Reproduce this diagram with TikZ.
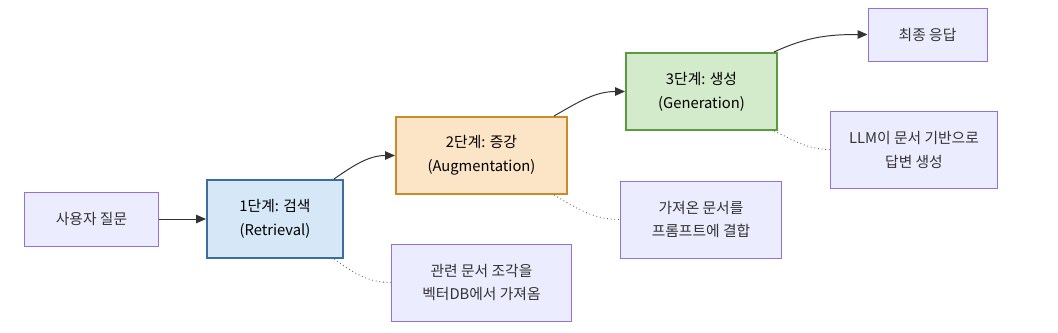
\documentclass[tikz,border=0pt]{standalone}
\usepackage{fontspec}
\newfontfamily\cjk{Noto Sans CJK KR}
\usetikzlibrary{arrows.meta}
\definecolor{notefill}{HTML}{ECECFF}
\definecolor{notedraw}{HTML}{9370DB}
\definecolor{retfill}{HTML}{D6E8F7}
\definecolor{retdraw}{HTML}{3B6E9E}
\definecolor{augfill}{HTML}{FCE4C6}
\definecolor{augdraw}{HTML}{CC8A2A}
\definecolor{genfill}{HTML}{D4EBCB}
\definecolor{gendraw}{HTML}{5A9A40}
\definecolor{linkgray}{HTML}{333333}

\begin{document}
\begin{tikzpicture}[x=0.025cm,y=-0.025cm,
  box/.style={draw=notedraw,fill=notefill,line width=0.7pt,inner sep=0pt,
    align=center,font=\cjk\fontsize{10.5}{17}\selectfont,text=linkgray},
  stage/.style={box,line width=1.4pt,text=black},
  link/.style={draw=linkgray,line width=0.7pt,-{Triangle[length=7pt,width=6pt]}},
  memo/.style={draw=linkgray!80,line width=0.6pt,dotted}]
\useasboundingbox (0,0) rectangle (1058,332);
% input and stages
\node[box,minimum width=3.325cm,minimum height=1.35cm] (ask) at (91.5,219) {사용자 질문};
\node[stage,draw=retdraw,fill=retfill,minimum width=3.4cm,minimum height=1.95cm] (ret) at (275,219) {1단계: 검색\\(Retrieval)};
\node[stage,draw=augdraw,fill=augfill,minimum width=4.275cm,minimum height=1.925cm] (aug) at (481.5,155.5) {2단계: 증강\\(Augmentation)};
\node[stage,draw=gendraw,fill=genfill,minimum width=3.775cm,minimum height=1.925cm] (gen) at (701.5,91.5) {3단계: 생성\\(Generation)};
\node[box,minimum width=2.975cm,minimum height=1.325cm] (ans) at (927.5,34.5) {최종 응답};
% notes
\node[box,minimum width=4.475cm,minimum height=1.925cm] (retnote) at (481.5,282.5) {관련 문서 조각을\\벡터DB에서 가져옴};
\node[box,minimum width=4cm,minimum height=1.925cm] (augnote) at (701,219.5) {가져온 문서를\\프롬프트에 결합};
\node[box,minimum width=4.15cm,minimum height=1.925cm] (gennote) at (914,149.5) {LLM이 문서 기반으로\\답변 생성};
% flow
\draw[link] (ask) -- (ret);
\draw[link] ([xshift=-2.5mm]ret.north east) to[out=35,in=180] (aug.west);
\draw[link] ([xshift=-3.5mm]aug.north east) to[out=30,in=180] (gen.west);
\draw[link] ([xshift=-1mm]gen.north east) to[out=25,in=180] (ans.west);
\draw[memo] ([xshift=-2.5mm]ret.south east) to[out=-35,in=180] (retnote.west);
\draw[memo] ([xshift=-3.5mm]aug.south east) to[out=-30,in=180] (augnote.west);
\draw[memo] ([xshift=-1mm]gen.south east) to[out=-25,in=180] (gennote.west);
\end{tikzpicture}
\end{document}
